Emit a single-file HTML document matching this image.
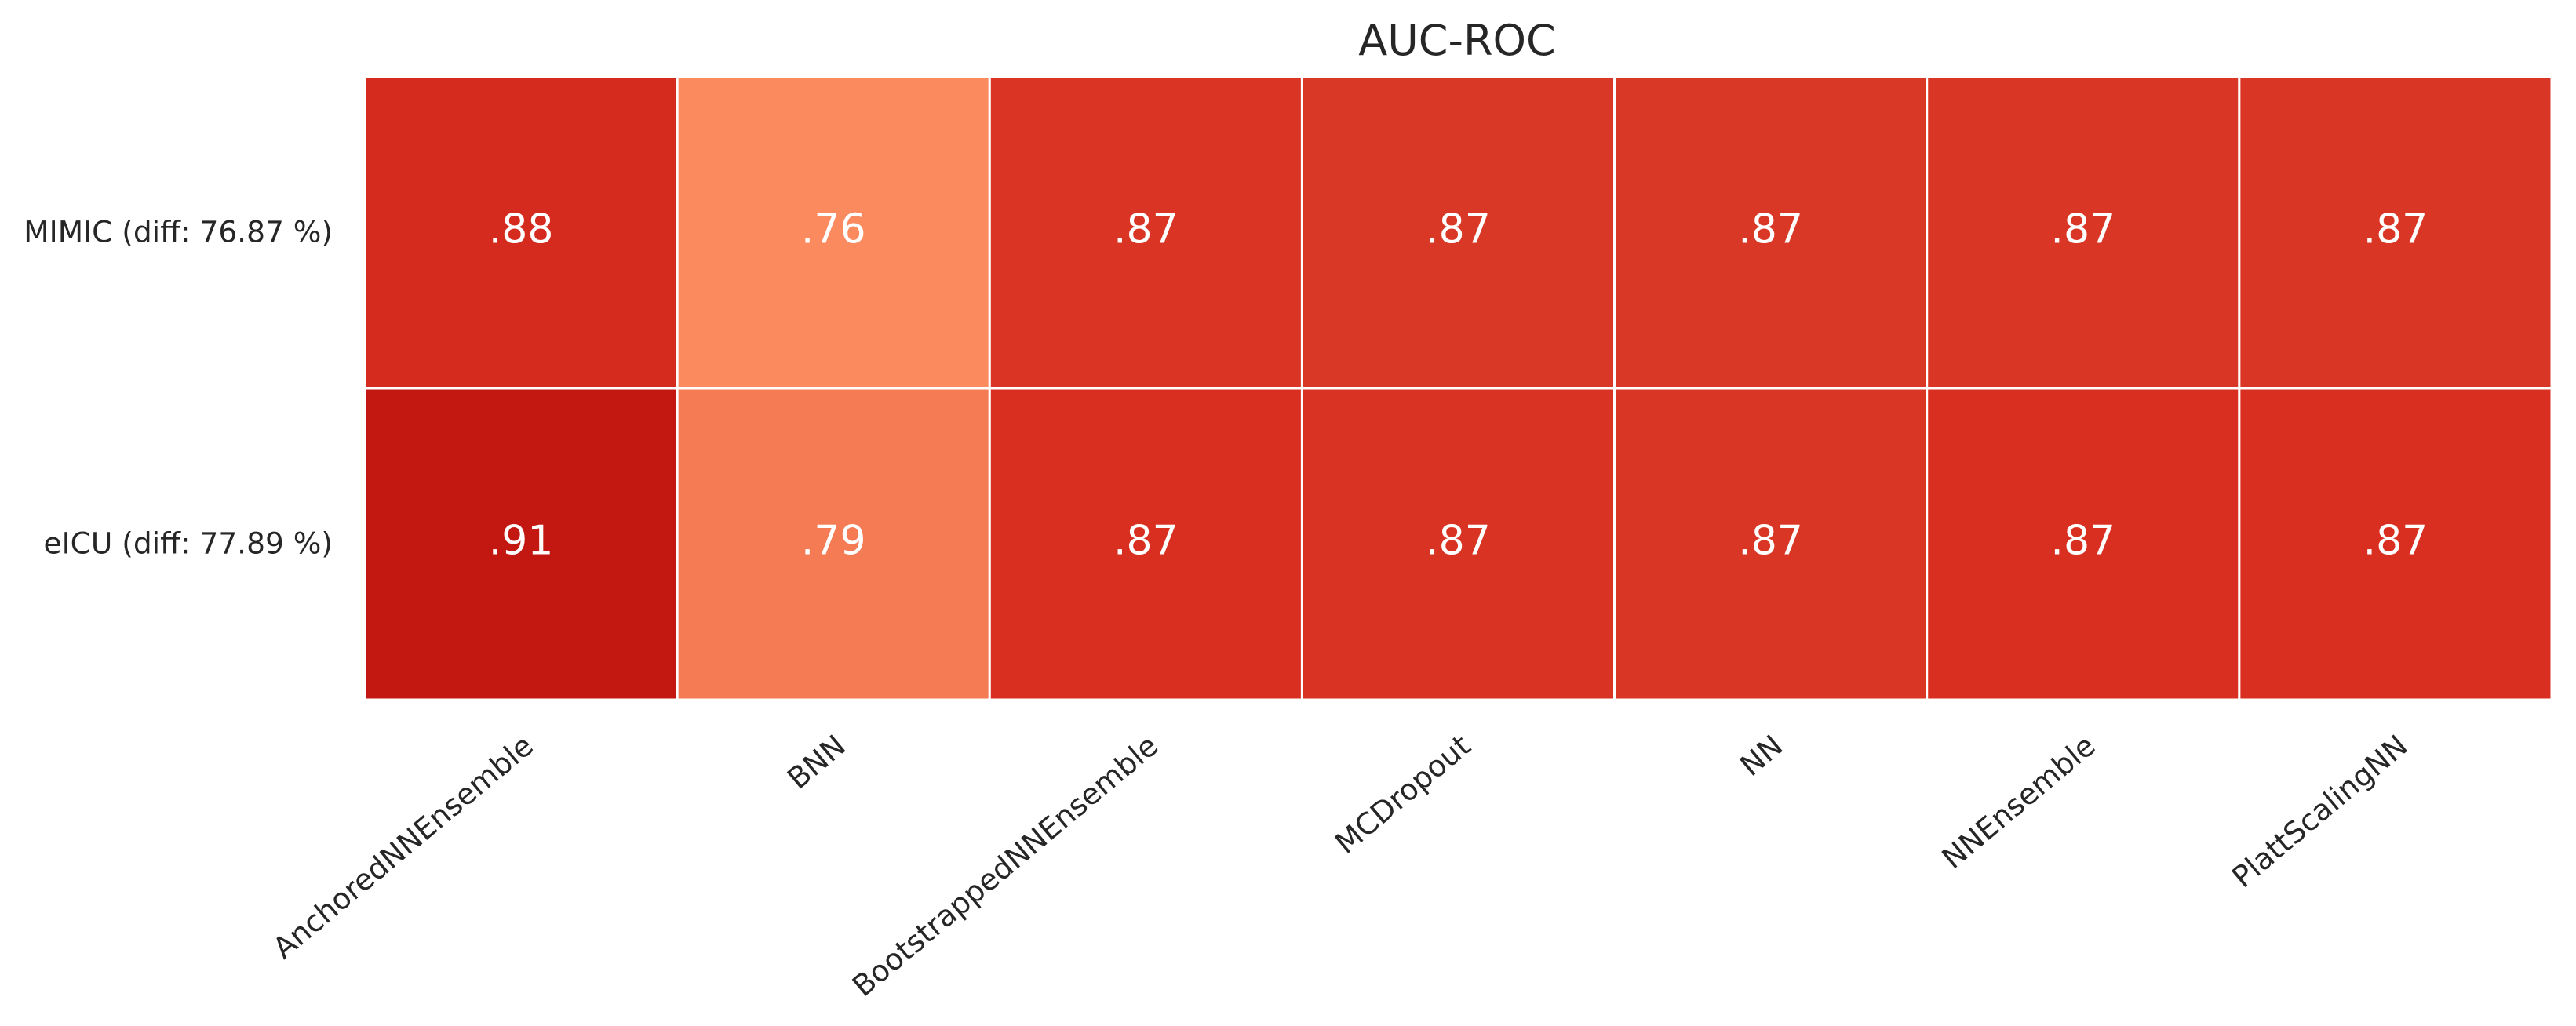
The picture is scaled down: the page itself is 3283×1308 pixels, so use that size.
<!DOCTYPE html>
<html><head><meta charset="utf-8"><style>body{margin:0;background:#fff}svg{display:block}</style></head>
<body>
<svg id="chart" width="3283" height="1308" xmlns="http://www.w3.org/2000/svg" font-family="DejaVu Sans, Liberation Sans, sans-serif">
<text x="1857" y="70" font-size="54" fill="#262626" text-anchor="middle">AUC-ROC</text>
<g id="cells"></g><g id="ylabels"></g><g id="xlabels"></g>
</svg>
<script>
const columns = ["AnchoredNNEnsemble","BNN","BootstrappedNNEnsemble","MCDropout","NN","NNEnsemble","PlattScalingNN"];
const rows = ["MIMIC (diff: 76.87 %)","eICU (diff: 77.89 %)"];
const mimicValues = [0.882,0.760,0.870,0.868,0.868,0.869,0.869];
const eicuValues = [0.910,0.790,0.873,0.871,0.869,0.873,0.873];
const values = [mimicValues, eicuValues];
const stops = [[0.76,[251,139,95]],[0.79,[244,123,83]],[0.868,[218,56,38]],[0.874,[215,45,31]],[0.882,[213,43,30]],[0.91,[194,24,17]]];
function color(v){
  if(v<=stops[0][0]) return 'rgb('+stops[0][1]+')';
  for(let i=1;i<stops.length;i++){ if(v<=stops[i][0]){const a=stops[i-1],b=stops[i],t=(v-a[0])/(b[0]-a[0]);
    return 'rgb('+a[1].map((c,k)=>Math.round(c+(b[1][k]-c)*t)).join(',')+')';}}
  return 'rgb('+stops[stops.length-1][1]+')';
}
const L=465,T=98,R=3252,B=892;
const cw=(R-L)/columns.length, rh=(B-T)/rows.length;
const xS=i=>L+i*cw, yS=j=>T+j*rh;
const NS='http://www.w3.org/2000/svg';
const cg=document.getElementById('cells'), yg=document.getElementById('ylabels'), xg=document.getElementById('xlabels');
values.forEach((row,j)=>row.forEach((v,i)=>{
  const r=document.createElementNS(NS,'rect');
  
  
  r.setAttribute('x',xS(i));r.setAttribute('y',yS(j));r.setAttribute('width',cw);r.setAttribute('height',rh);
  r.setAttribute('fill',color(v));r.setAttribute('stroke','#fff');r.setAttribute('stroke-width','3');
  cg.appendChild(r);
  const t=document.createElementNS(NS,'text');
  
  
  t.setAttribute('x',xS(i)+cw/2);t.setAttribute('y',yS(j)+rh/2+13);
  t.setAttribute('text-anchor','middle');t.setAttribute('font-size','52');t.setAttribute('fill','#fff');
  t.textContent=v.toFixed(2).replace(/^0/,'');
  cg.appendChild(t);
}));
rows.forEach((n,j)=>{
  const t=document.createElementNS(NS,'text');
  
  
  t.setAttribute('x',424);t.setAttribute('y',yS(j)+rh/2+12);
  t.setAttribute('text-anchor','end');t.setAttribute('font-size','37.5');t.setAttribute('fill','#262626');
  t.textContent=n;yg.appendChild(t);
});
columns.forEach((n,i)=>{
  const x=xS(i)+cw/2+18,y=955;
  const t=document.createElementNS(NS,'text');
  
  
  t.setAttribute('x',x);t.setAttribute('y',y);
  t.setAttribute('transform','rotate(-40 '+x+' '+y+')');
  t.setAttribute('text-anchor','end');t.setAttribute('font-size','37.5');t.setAttribute('fill','#262626');
  t.textContent=n;xg.appendChild(t);
});
</script>
</body></html>
